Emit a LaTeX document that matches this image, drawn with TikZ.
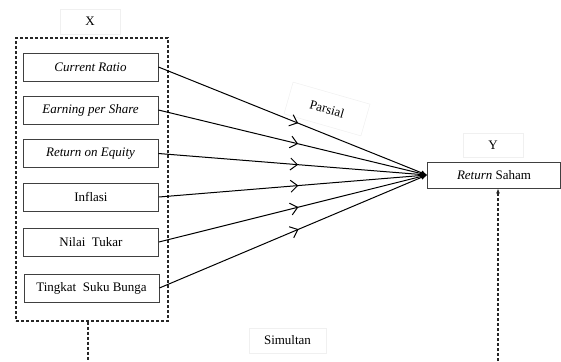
\documentclass[tikz,border=0pt]{standalone}
\usepackage{fontspec}
\setmainfont{Liberation Serif}[ItalicFont={Liberation Serif Italic},BoldFont={Liberation Serif Bold}]
\usetikzlibrary{arrows.meta,decorations.markings}
\begin{document}
\begin{tikzpicture}[x=1pt,y=-1pt,
  varbox/.style={draw=black!75,line width=0.8pt,minimum width=135pt,minimum height=28pt,inner sep=0pt,font=\fontsize{13}{15}\selectfont},
  faint/.style={draw=black!6,line width=0.5pt,fill=white,inner sep=0pt,font=\fontsize{13}{15}\selectfont},
  dashbox/.style={draw=black!85,line width=1.1pt,dash pattern=on 3pt off 2pt},
  link/.style={line width=1pt,-{Latex[length=6pt,width=5pt]},
    postaction={decorate},
    decoration={markings,mark=at position 0.52 with {\arrow{Straight Barb[length=7pt,width=12pt,line width=1pt]}}}}]
\useasboundingbox (0,0) rectangle (561,361);
% X group
\node[dashbox,minimum width=152pt,minimum height=283pt,inner sep=0pt] (grp) at (92,179.5) {};
\node[faint,minimum width=60pt,minimum height=25pt] (xl) at (90,21.5) {X};
\node[varbox] (cr) at (90.5,67) {\textit{Current Ratio}};
\node[varbox] (eps) at (90.5,110) {\textit{Earning per Share}};
\node[varbox] (roe) at (90.5,153.5) {\textit{Return on Equity}};
\node[varbox] (inf) at (91,197) {Inflasi};
\node[varbox] (nt) at (91,242) {Nilai\ \ Tukar};
\node[varbox] (tsb) at (91.5,288) {Tingkat\ \ Suku Bunga};
% Y
\node[faint,minimum width=60pt,minimum height=24pt] (yl) at (493,145) {Y};
\node[varbox,minimum width=133pt,minimum height=26pt] (rs) at (494,175) {\textit{Return} Saham};
% labels
\node[faint,minimum width=80pt,minimum height=33pt,rotate=-16] (par) at (327,109) {Parsial};
\node[faint,minimum width=77pt,minimum height=25pt] (sim) at (287.5,340.5) {Simultan};
% connectors
\foreach \n in {cr,eps,roe,inf,nt,tsb}{
  \draw[link] (\n.east) -- (rs.west);
}
\coordinate (b1) at (88,361);
\coordinate (b2) at (498,361);
\draw[dashbox] (grp.south -| b1) -- (b1);
\draw[dashbox,-{Latex[length=5pt,width=4pt]}] (b2) -- (b2 |- rs.south);
\end{tikzpicture}
\end{document}
